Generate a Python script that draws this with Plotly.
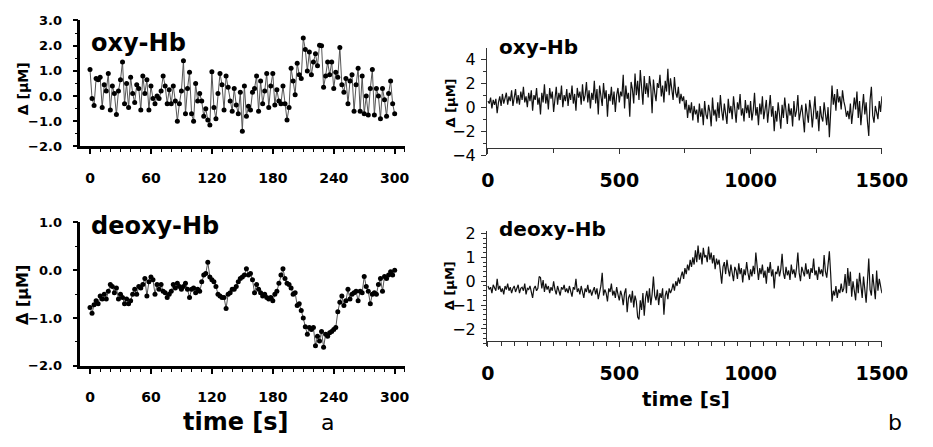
import plotly.graph_objects as go

# ---------------- data ----------------
t_left = list(range(0, 301, 2))
oxy_left = [
    1.05, -0.1, -0.37, 0.7, 0.65, 0.75, -0.45, 0.45, 0.2, 0.9,
    -0.55, 0.4, 0.1, -0.73, 0.2, 0.65, 1.35, -0.3, 0.5, -0.45,
    0.75, 0.1, -0.25, 0.45, 0.3, -0.55, 0.8, 0.1, 0.65, -0.55,
    0.4, -0.1, -0.3, 0.0, -0.1, 0.2, 0.8, 0.4, -0.3, 0.25,
    -0.3, 0.4, -0.2, -1.0, -0.3, 0.2, 1.4, -0.7, 0.3, 0.95,
    -0.7, -1.0, 0.5, -0.2, 0.1, -0.2, -0.8, -0.5, -0.95, -1.15,
    0.97, -0.45, -0.9, 0.1, 0.9, 0.45, -0.55, 0.8, 0.35, -0.2,
    -0.6, 0.3, -0.35, -0.7, 0.15, -1.4, 0.4, -0.8, -0.4, -0.55,
    0.15, 0.3, 0.8, -0.6, 0.6, -0.3, 0.2, 0.9, -0.45, 0.4,
    0.9, -0.35, 0.25, -0.2, -0.3, 0.4, -0.3, -0.95, -0.45, 1.1,
    0.6, 0.05, 1.3, 0.85, 0.7, 2.3, 1.85, 1.0, 1.75, 0.85,
    1.35, 1.68, 1.2, 2.02, 2.0, 0.35, 0.8, 1.35, 0.85, 1.35,
    0.3, 0.95, 0.75, 1.93, 0.45, 0.15, 0.7, -0.3, 0.6, 0.85,
    -0.6, 0.45, 1.1, -0.6, 0.8, -0.7, 0.0, -0.75, 0.3, 1.05,
    -0.75, 0.3, 0.0, -0.9, 0.3, -0.15, -0.8, 0.1, 0.6, -0.3,
    -0.7,
]
deoxy_left = [
    -0.78, -0.9, -0.72, -0.64, -0.7, -0.54, -0.6, -0.5, -0.6, -0.44,
    -0.3, -0.34, -0.47, -0.37, -0.6, -0.5, -0.57, -0.7, -0.6, -0.7,
    -0.64, -0.5, -0.4, -0.5, -0.34, -0.37, -0.3, -0.17, -0.54, -0.24,
    -0.14, -0.2, -0.5, -0.3, -0.4, -0.3, -0.44, -0.47, -0.57, -0.5,
    -0.44, -0.3, -0.37, -0.27, -0.34, -0.4, -0.34, -0.27, -0.4, -0.57,
    -0.4, -0.37, -0.47, -0.4, -0.44, -0.24, -0.1, -0.07, 0.17, -0.14,
    -0.2, -0.24, -0.34, -0.5, -0.54, -0.57, -0.57, -0.8, -0.5, -0.47,
    -0.4, -0.4, -0.34, -0.24, -0.17, -0.14, -0.1, 0.03, -0.1, -0.07,
    -0.2, -0.47, -0.3, -0.4, -0.47, -0.54, -0.5, -0.57, -0.6, -0.57,
    -0.64, -0.5, -0.44, -0.27, -0.1, 0.03, -0.17, -0.27, -0.3, -0.37,
    -0.5, -0.47, -0.74, -0.7, -0.84, -1.0, -1.18, -1.34, -1.2, -1.24,
    -1.2, -1.58, -1.38, -1.48, -1.28, -1.61, -1.34, -1.38, -1.31, -1.28,
    -1.24, -1.2, -0.87, -0.67, -0.54, -0.74, -0.64, -0.4, -0.6, -0.5,
    -0.47, -0.44, -0.64, -0.44, -0.47, -0.13, -0.34, -0.44, -0.7, -0.5,
    -0.47, -0.5, -0.3, -0.17, -0.44, -0.13, -0.17, -0.1, -0.03, -0.1,
    0.0,
]

t_right = list(range(0, 1501, 5))
oxy_right = [
    0.5, 0.3, 0.8, -0.1, 0.6, 0.2, 0.7, -0.5, 0.4, 0.9, 0.1, 1.1, 0.3, 0.8, 1.2, 0.2, 0.9, 0.5, 1.4, 0.1,
    0.8, 1.5, 0.3, 1.0, 0.2, 1.3, 0.6, 1.7, 0.4, 0.9, 0.0, 1.2, 0.5, 1.4, -0.3, 1.0, 0.6, 1.6, 0.2, 0.8,
    -0.6, 1.2, 0.4, 1.9, 0.3, 1.1, -0.2, 1.6, 0.7, 1.3, -0.4, 0.9, 1.7, 0.2, 1.2, 0.6, 1.8, 0.0, 1.0, 0.5,
    1.5, 0.1, 1.2, 0.6, 1.8, 0.3, 1.1, -0.3, 1.6, 0.8, 1.3, 0.2, 1.9, 0.5, 1.0, 2.1, 0.4, 1.4, -0.1, 1.2,
    0.6, 2.2, 0.3, 1.5, -0.6, 1.8, 0.9, 0.1, 2.0, 0.7, 1.4, -0.8, 1.1, 0.5, 1.7, 0.2, 1.3, -0.4, 1.0, 1.6,
    0.4, 1.3, 0.9, 2.7, -0.1, 1.8, 0.7, 1.2, -0.8, 2.1, 1.5, 0.3, 2.8, 1.0, 2.2, 0.6, 3.1, 1.4, 0.2, 2.6,
    1.1, 2.0, 0.8, 2.6, 1.7, -0.5, 2.3, 1.2, 0.5, 2.0, 1.6, 2.7, 0.9, 1.8, 0.4, 2.2, 1.3, 3.2, 1.0, 2.4,
    1.6, 0.6, 2.5, 1.2, 0.8, 1.7, 0.3, 1.1, 0.5, 0.9, -0.2, 0.6, -0.9, 0.2, -0.5, 0.4, -1.1, 0.1, -0.6, -0.2,
    -1.3, 0.3, -0.8, -0.1, -1.5, 0.5, -0.6, -1.0, 0.2, -0.4, -1.6, 0.8, -0.7, -0.2, -1.2, 0.4, -0.9, 1.0, -0.3, -1.1,
    0.3, -0.8, -1.4, 0.7, -0.5, 0.1, -1.0, 0.9, -0.4, -1.3, 0.4, -0.2, 1.1, -0.7, -0.1, -1.2, 0.6, -0.5, 0.2, -0.9,
    0.5, -1.1, -0.3, 1.2, -0.7, 0.0, -1.5, 0.3, -0.6, 0.9, -1.0, -0.2, 0.6, -1.3, -0.4, 1.0, -0.8, 0.1, -2.0, -0.3,
    -1.2, 0.4, -0.6, -1.8, 0.2, -0.9, 0.8, -0.4, -1.4, 0.3, -0.7, -0.1, -1.6, 0.5, -0.8, -0.3, 1.0, -1.1, -0.5, 0.2,
    -0.9, -2.1, 0.3, -0.6, -1.3, 0.6, -0.2, -1.7, -0.5, 0.9, -1.0, -0.3, -2.0, 0.1, -0.8, -1.2, 0.4, -0.6, -1.5, 0.0,
    -2.5, -0.4, 1.8, 0.2, 1.1, -0.3, 1.5, 0.4, 0.9, -0.2, 1.4, 0.5, 0.0, -0.8, -0.3, -1.0, 0.3, -1.4, -0.5, 0.8,
    -0.2, 1.3, -0.9, 0.5, -1.5, 0.2, 1.1, -0.6, 0.4, -1.2, -2.4, 0.6, 1.7, -0.7, -1.3, 0.1, -0.5, -1.0, 0.5, -0.4,
    0.9,
]
deoxy_right = [
    -0.2, -0.35, -0.25, -0.5, -0.15, -0.3, -0.4, 0.1, -0.35, -0.2, -0.45, -0.3, -0.55, -0.2, -0.35, -0.1, -0.4, -0.25, -0.5, -0.3,
    -0.2, -0.45, -0.3, -0.15, -0.5, -0.3, -0.25, -0.4, -0.1, -0.55, -0.3, -0.35, -0.2, -0.45, -0.7, -0.3, -0.2, -0.4, -0.3, 0.2,
    0.15, -0.3, 0.05, -0.45, -0.1, -0.35, -0.2, -0.5, -0.25, -0.4, 0.0, -0.35, -0.55, -0.2, -0.4, -0.6, -0.25, -0.35, -0.15, -0.45,
    -0.3, -0.5, -0.2, -0.4, -0.65, -0.25, -0.35, 0.1, -0.45, -0.3, -0.55, -0.2, -0.4, -0.7, -0.3, -0.45, -0.15, -0.5, -0.35, -0.6,
    -0.4, -0.25, -0.55, -0.3, -0.75, -0.45, -0.2, 0.35, -0.6, -0.35, -0.5, -0.85, -0.3, -0.45, -0.1, -0.6, -0.4, -0.7, -0.25, -0.55,
    -0.8, -0.4, -0.6, -1.0, -0.5, -0.3, -1.3, -0.7, -0.55, -0.9, -0.4, -1.1, -0.6, -0.85, -1.5, -1.6, -0.8, -1.2, -0.5, -1.45,
    -0.7, -0.4, -0.9, -0.3, -1.0, -0.55, 0.2, -0.6, -0.8, -0.35, -1.0, -0.5, -0.7, -0.3, -1.4, -0.6, -0.4, -0.75, -0.3, -0.5,
    -0.35, -0.1, -0.4, 0.0, -0.2, 0.15, -0.1, 0.2, 0.4, 0.1, 0.55, 0.3, 0.7, 0.45, 0.9, 0.6, 1.0, 0.7, 1.3, 0.8,
    1.5, 0.9, 1.2, 0.7, 1.4, 1.0, 1.1, 0.8, 1.45, 0.9, 1.2, 0.75, 1.1, 0.5, 0.95, 0.7, 0.9, 0.4, -0.1, 0.6,
    0.8, 0.3, 0.9, 0.5, 0.2, 0.7, 0.35, 0.0, 0.6, 0.45, 0.1, 0.75, 0.3, 0.55, -0.05, 0.5, 0.25, 0.8, 0.35, 0.05,
    0.5, 0.2, 0.65, 0.3, 1.2, 0.4, 0.05, 0.55, 0.3, 0.7, 0.15, 0.45, -0.1, 0.6, 0.35, 0.8, 0.2, 0.5, -0.3, 0.4,
    0.3, 0.65, 0.2, 0.5, 1.15, 0.35, 0.1, 0.6, 0.25, 0.45, 0.05, 0.7, 0.3, 0.5, 0.15, 0.55, 1.2, 0.35, 0.0, 0.6,
    0.4, 0.2, 0.75, 0.3, 0.5, 0.1, 0.55, 0.35, 0.95, 0.25, 0.45, 0.05, 0.6, 0.3, 0.5, 0.2, 1.1, 0.4, 0.15, 0.6,
    1.25, 0.3, -0.85, -0.4, -0.6, -0.2, -0.7, -0.35, -0.5, -0.1, -0.45, -0.3, 0.3, -0.5, 0.55, -0.2, 0.4, -0.65, 0.0, -0.4,
    -0.8, 0.1, -0.5, 0.35, -0.3, -0.7, 0.2, -0.45, -0.9, 0.0, 0.95, -0.35, -0.6, 0.3, -0.2, -0.75, 0.45, -0.4, 0.1, -0.3,
    -0.5,
]

left_xticks = [0, 60, 120, 180, 240, 300]
right_xticks = [0, 500, 1000, 1500]

# ---------------- figure ----------------
W, H = 933, 447
FONT = "DejaVu Sans"


def px(x):
    return x / W


def py(y):
    return 1 - y / H


fig = go.Figure()

fig.add_trace(go.Scatter(x=t_left, y=oxy_left, mode="lines+markers",
                         line=dict(color="#555555", width=1),
                         marker=dict(color="black", size=5),
                         xaxis="x", yaxis="y"))
fig.add_trace(go.Scatter(x=t_left, y=deoxy_left, mode="lines+markers",
                         line=dict(color="#555555", width=1),
                         marker=dict(color="black", size=5),
                         xaxis="x2", yaxis="y2"))
fig.add_trace(go.Scatter(x=t_right, y=oxy_right, mode="lines",
                         line=dict(color="#111111", width=1.2),
                         xaxis="x3", yaxis="y3"))
fig.add_trace(go.Scatter(x=t_right, y=deoxy_right, mode="lines",
                         line=dict(color="#111111", width=1.2),
                         xaxis="x4", yaxis="y4"))

left_x_common = dict(
    domain=[px(77), px(413)], range=[-9.5, 310],
    showline=True, linewidth=2.5, linecolor="black",
    ticks="outside", ticklen=5, tickwidth=1.5, tickcolor="black",
    tickvals=left_xticks, ticklabelstandoff=12,
    tickfont=dict(family=FONT, size=14, color="black", weight="bold"),
    minor=dict(dtick=10, tick0=0, ticks="outside", ticklen=3, tickwidth=1, tickcolor="black"),
    showgrid=False, zeroline=False,
)
left_y_common = dict(
    showline=True, linewidth=2.5, linecolor="black",
    ticks="outside", ticklen=5, tickwidth=1.5, tickcolor="black",
    dtick=1.0, tick0=0, tickformat=".1f", ticklabelstandoff=8,
    tickfont=dict(family=FONT, size=13, color="black", weight="bold"),
    minor=dict(dtick=0.5, tick0=0, ticks="outside", ticklen=3, tickwidth=1, tickcolor="black"),
    showgrid=False, zeroline=False,
)
right_x_common = dict(
    domain=[px(498), px(907)], range=[-4, 1500], anchor="free",
    showline=True, linewidth=1, linecolor="#333333",
    ticks="outside", ticklen=5, tickwidth=1, tickcolor="#333333",
    tickvals=right_xticks, ticklabelstandoff=10,
    tickfont=dict(family=FONT, size=19, color="black", weight="bold"),
    showgrid=False, zeroline=False,
)
right_y_common = dict(
    showline=True, linewidth=1, linecolor="#333333",
    ticks="outside", ticklen=5, tickwidth=1, tickcolor="#333333",
    ticklabelstandoff=2,
    tickfont=dict(family=FONT, size=16, color="black"),
    showgrid=False, zeroline=False,
)

fig.update_layout(
    width=W, height=H, margin=dict(l=0, r=0, t=0, b=0),
    paper_bgcolor="white", plot_bgcolor="white", showlegend=False,
    font=dict(family=FONT, color="black"),
    xaxis=dict(**left_x_common, anchor="y"),
    yaxis=dict(**left_y_common, domain=[py(145), py(14)], range=[-2, 3], anchor="x"),
    xaxis2=dict(**left_x_common, anchor="y2"),
    yaxis2=dict(**left_y_common, domain=[py(373), py(224)], range=[-2, 1], anchor="x2"),
    xaxis3=dict(**right_x_common, position=py(147),
                minor=dict(dtick=250, tick0=0, ticks="outside", ticklen=4, tickwidth=1, tickcolor="#333333")),
    yaxis3=dict(**right_y_common, domain=[py(154), py(43)], range=[-4, 4.9], anchor="x3",
                tickvals=[-4, -2, 0, 2, 4],
                minor=dict(dtick=1, tick0=0, ticks="outside", ticklen=3, tickwidth=1, tickcolor="#333333")),
    xaxis4=dict(**right_x_common, position=py(347),
                minor=dict(dtick=50, tick0=0, ticks="outside", ticklen=4, tickwidth=1, tickcolor="#333333")),
    yaxis4=dict(**right_y_common, domain=[py(352), py(233)], range=[-2.7, 2.1], anchor="x4",
                tickvals=[-2, -1, 0, 1, 2],
                minor=dict(dtick=0.2, tick0=0, ticks="outside", ticklen=3, tickwidth=1, tickcolor="#333333")),
)

ann = []


def add_text(text, x, y, size, bold=True, xanchor="left", yanchor="middle", angle=0):
    ann.append(dict(text=text, x=px(x), y=py(y), xref="paper", yref="paper",
                    xanchor=xanchor, yanchor=yanchor, showarrow=False, textangle=angle,
                    font=dict(family=FONT, size=size, color="black",
                              weight="bold" if bold else "normal")))


add_text("oxy-Hb", 86, 37, 24)
add_text("deoxy-Hb", 86, 228, 24)
add_text("oxy-Hb", 508, 42, 20)
add_text("deoxy-Hb", 508, 231, 20)
add_text("time [s]", 238, 431, 24, xanchor="center")
add_text("time [s]", 704, 408, 20, xanchor="center")
add_text("a", 333, 432, 22, bold=False, xanchor="center")
add_text("b", 921, 432, 22, bold=False, xanchor="center")
add_text("Δ [μM]", 17, 85, 14, xanchor="center", angle=-90)
add_text("Δ [μM]", 17, 299, 16, xanchor="center", angle=-90)
add_text("Δ [μM]", 460, 100, 13, xanchor="center", angle=-90)
add_text("Δ [μM]", 460, 290, 13, xanchor="center", angle=-90)

fig.update_layout(annotations=ann)
fig.write_html("out.html")
